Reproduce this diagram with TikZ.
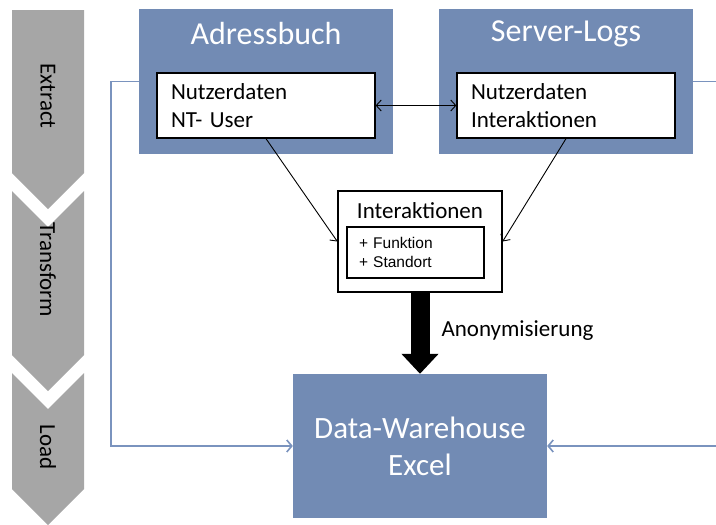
\documentclass[tikz,border=0pt]{standalone}
\usepackage{fontspec}
\setmainfont{Carlito}
\newfontfamily\arialfont{Liberation Sans}
\usetikzlibrary{arrows.meta}

\definecolor{boxblue}{RGB}{114,139,180}
\definecolor{lineblue}{RGB}{122,147,190}
\definecolor{chevgray}{RGB}{166,166,166}
\newcommand{\fs}[2]{\fontsize{#1}{#2}\selectfont}

\tikzset{
    phase/.style={rotate=-90, text=black, font=\fs{23}{28}},
    srcbox/.style={fill=boxblue, minimum width=254, minimum height=145, inner sep=0},
    srctitle/.style={text=white, font=\fs{32}{38}},
    databox/.style={draw, line width=1.3pt, fill=white, minimum width=218, minimum height=65,
        text width=190, inner xsep=14, align=left, font=\fs{23}{28}},
    link/.style={line width=0.9pt, {Straight Barb[length=5pt,width=11pt]}-{Straight Barb[length=5pt,width=11pt]}},
    feed/.style={lineblue, line width=1.6pt, -{Straight Barb[length=5pt,width=12pt]}},
}

\begin{document}
\begin{tikzpicture}[x=1pt,y=-1pt]
    \useasboundingbox (0,0) rectangle (716,525);

    % ETL phases (chevrons on the left)
    \fill[chevgray] (12,10) -- (84,10) -- (84,173) -- (48,209) -- (12,173) -- cycle;
    \fill[chevgray] (12,191) -- (48,227) -- (84,191) -- (84,355) -- (48,391) -- (12,355) -- cycle;
    \fill[chevgray] (12,373) -- (48,409) -- (84,373) -- (84,489) -- (48,525) -- (12,489) -- cycle;
    \node[phase] (extract) at (48,96) {Extract};
    \node[phase] (transform) at (48,270) {Transform};
    \node[phase] (load) at (48,447) {Load};

    % Sources
    \node[srcbox] (adress) at (266,81.5) {};
    \node[srctitle] (adresstitle) at (266,34) {Adressbuch};
    \node[databox] (adressdata) at (266,105.5) {Nutzerdaten\\NT- User};

    \node[srcbox] (server) at (566,81.5) {};
    \node[srctitle] (servertitle) at (566,34) {Server-Logs};
    \node[databox] (serverdata) at (566,105.5) {Nutzerdaten\\Interaktionen};

    \draw[link] (adressdata) -- (serverdata);

    % Merged interactions
    \node[draw, line width=1.3pt, fill=white, minimum width=164, minimum height=101] (inter) at (420,241.5) {};
    \node[font=\fs{23}{28}] (intertitle) at (420,211) {Interaktionen};
    \node[draw, line width=1.3pt, minimum width=137, minimum height=51, text width=113, inner xsep=12,
        align=left, font=\arialfont\fs{15.5}{19}] (interdata) at (415.5,252.5) {+ Funktion\\+ Standort};

    \draw[line width=0.9pt, -{Straight Barb[length=5pt,width=11pt]}] (adressdata.south) -- (inter.west);
    \draw[line width=0.9pt, -{Straight Barb[length=5pt,width=11pt]}] (serverdata.south) -- (inter.east);

    % Target
    \node[fill=boxblue, minimum width=254, minimum height=144, text=white, align=center,
        font=\fs{31}{37}] (dwh) at (420,446) {Data-Warehouse\\Excel};

    \draw[line width=19pt, -{Triangle[length=20pt,width=36pt]}] (inter.south) -- (dwh.north)
        node[midway, anchor=west, xshift=12pt, yshift=3pt, inner sep=0, font=\fs{23}{28}] (anon) {Anonymisierung};

    % Load paths back into the warehouse
    \coordinate (lbend) at (111,446);
    \coordinate (rbend) at (717,446);
    \draw[feed] (adress.west) -| (lbend) -- (dwh.west);
    \draw[feed] (server.east) -| (rbend) -- (dwh.east);
\end{tikzpicture}
\end{document}
